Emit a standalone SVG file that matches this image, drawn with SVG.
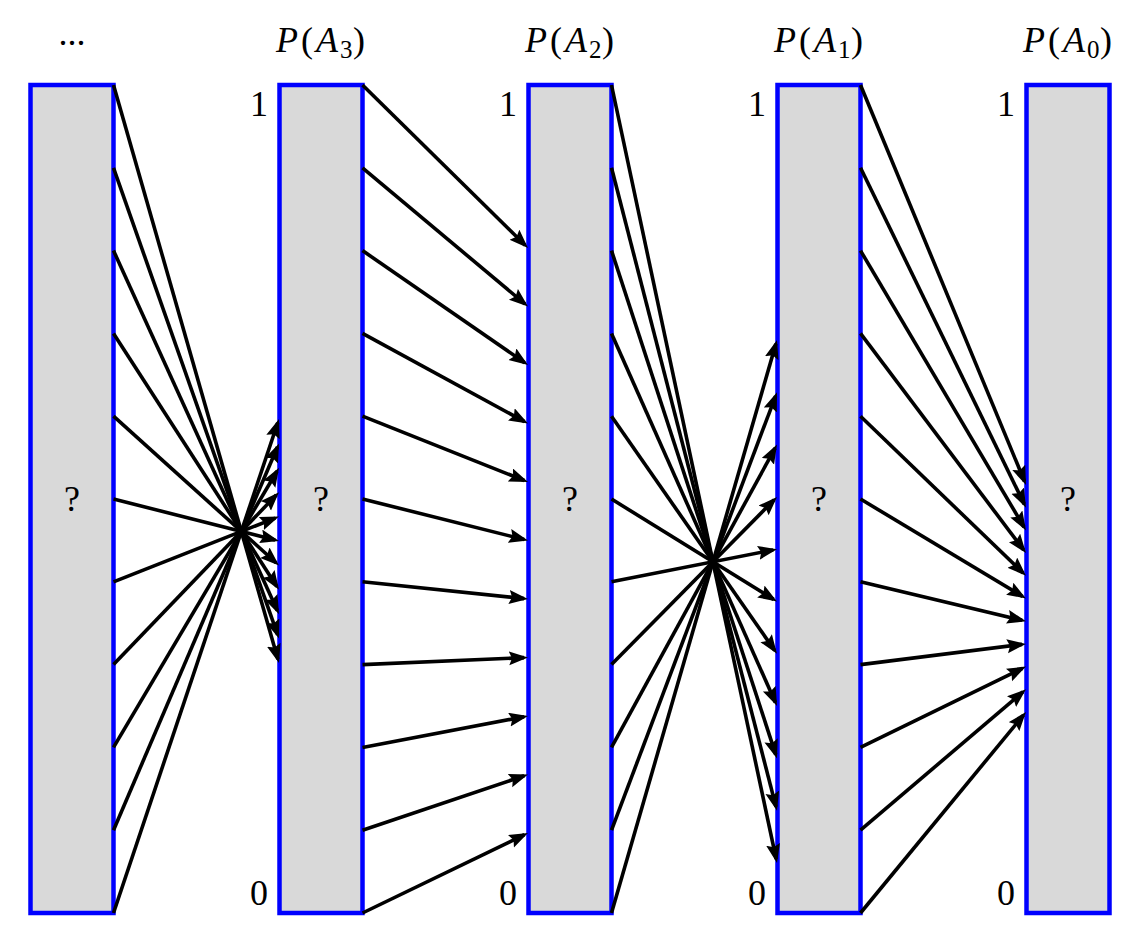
<svg xmlns="http://www.w3.org/2000/svg" width="1131" height="947" viewBox="0 0 1131 947">
<style>
.col{fill:#d9d9d9;stroke:#0000ff;stroke-width:4.5}
.t{font-family:"Liberation Serif","DejaVu Serif",serif;font-size:36px;fill:#000}
.i{font-style:italic}
.s{font-size:25px}
.c{fill:none;stroke:#000;stroke-width:3.6;marker-end:url(#ah)}
</style>
<defs>
<marker id="ah" markerUnits="userSpaceOnUse" markerWidth="20" markerHeight="15" refX="15" refY="7" orient="auto">
<path d="M0,0 L19,7 L0,14 L3,7 z" fill="#000"/>
</marker>
</defs>
<rect width="1131" height="947" fill="#fff"/>
<g id="col0"><rect class="col" x="30.5" y="85" width="83" height="828"/><text class="t" x="72" y="511" text-anchor="middle">?</text><text class="t" x="72" y="45" text-anchor="middle">...</text></g>
<g id="col1"><rect class="col" x="279.5" y="85" width="83" height="828"/><text class="t" x="321" y="511" text-anchor="middle">?</text><text class="t" x="268" y="116" text-anchor="end">1</text><text class="t" x="268" y="905" text-anchor="end">0</text>
<text class="t"><tspan class="i" x="276" y="52">P</tspan><tspan x="301" y="52">(</tspan><tspan class="i" x="316" y="52">A</tspan><tspan class="s" x="340" y="58">3</tspan><tspan x="353" y="52">)</tspan></text></g>
<g id="col2"><rect class="col" x="528.5" y="85" width="83" height="828"/><text class="t" x="570" y="511" text-anchor="middle">?</text><text class="t" x="517" y="116" text-anchor="end">1</text><text class="t" x="517" y="905" text-anchor="end">0</text>
<text class="t"><tspan class="i" x="525" y="52">P</tspan><tspan x="550" y="52">(</tspan><tspan class="i" x="565" y="52">A</tspan><tspan class="s" x="589" y="58">2</tspan><tspan x="602" y="52">)</tspan></text></g>
<g id="col3"><rect class="col" x="777.5" y="85" width="83" height="828"/><text class="t" x="819" y="511" text-anchor="middle">?</text><text class="t" x="766" y="116" text-anchor="end">1</text><text class="t" x="766" y="905" text-anchor="end">0</text>
<text class="t"><tspan class="i" x="774" y="52">P</tspan><tspan x="799" y="52">(</tspan><tspan class="i" x="814" y="52">A</tspan><tspan class="s" x="838" y="58">1</tspan><tspan x="851" y="52">)</tspan></text></g>
<g id="col4"><rect class="col" x="1026.5" y="85" width="83" height="828"/><text class="t" x="1068" y="511" text-anchor="middle">?</text><text class="t" x="1015" y="116" text-anchor="end">1</text><text class="t" x="1015" y="905" text-anchor="end">0</text>
<text class="t"><tspan class="i" x="1023" y="52">P</tspan><tspan x="1048" y="52">(</tspan><tspan class="i" x="1063" y="52">A</tspan><tspan class="s" x="1087" y="58">0</tspan><tspan x="1100" y="52">)</tspan></text></g>
<g id="connectors">
<path class="c" d="M113.5,85 L277.9,659.15"/>
<path class="c" d="M113.5,167.8 L277.67,634.83"/>
<path class="c" d="M113.5,250.6 L277.34,610.56"/>
<path class="c" d="M113.5,333.4 L276.83,586.44"/>
<path class="c" d="M113.5,416.2 L276.03,562.72"/>
<path class="c" d="M113.5,499 L275.12,540.02"/>
<path class="c" d="M113.5,581.8 L275.28,518.07"/>
<path class="c" d="M113.5,664.6 L276.23,495.09"/>
<path class="c" d="M113.5,747.4 L276.96,471.24"/>
<path class="c" d="M113.5,830.2 L277.43,447.08"/>
<path class="c" d="M113.5,913 L277.73,422.79"/>
<path class="c" d="M362.5,85 L525.15,245.19"/>
<path class="c" d="M362.5,167.8 L524.93,303.93"/>
<path class="c" d="M362.5,250.6 L524.71,362.73"/>
<path class="c" d="M362.5,333.4 L524.49,421.59"/>
<path class="c" d="M362.5,416.2 L524.28,480.52"/>
<path class="c" d="M362.5,499 L524.12,539.53"/>
<path class="c" d="M362.5,581.8 L524.02,598.59"/>
<path class="c" d="M362.5,664.6 L524,657.67"/>
<path class="c" d="M362.5,747.4 L524.07,716.75"/>
<path class="c" d="M362.5,830.2 L524.21,775.78"/>
<path class="c" d="M362.5,913 L524.4,834.74"/>
<path class="c" d="M611.5,85 L776.17,859.09"/>
<path class="c" d="M611.5,167.8 L776,806.83"/>
<path class="c" d="M611.5,250.6 L775.76,754.6"/>
<path class="c" d="M611.5,333.4 L775.38,702.44"/>
<path class="c" d="M611.5,416.2 L774.71,650.52"/>
<path class="c" d="M611.5,499 L773.6,599.39"/>
<path class="c" d="M611.5,581.8 L773.08,549.97"/>
<path class="c" d="M611.5,664.6 L774.19,499.75"/>
<path class="c" d="M611.5,747.4 L775.08,448.11"/>
<path class="c" d="M611.5,830.2 L775.59,396.04"/>
<path class="c" d="M611.5,913 L775.89,343.84"/>
<path class="c" d="M860.5,85 L1024.47,481.3"/>
<path class="c" d="M860.5,167.8 L1024.25,504.1"/>
<path class="c" d="M860.5,250.6 L1023.96,526.96"/>
<path class="c" d="M860.5,333.4 L1023.59,549.91"/>
<path class="c" d="M860.5,416.2 L1023.12,573.02"/>
<path class="c" d="M860.5,499 L1022.57,596.44"/>
<path class="c" d="M860.5,581.8 L1022.11,620.27"/>
<path class="c" d="M860.5,664.6 L1022.03,644.4"/>
<path class="c" d="M860.5,747.4 L1022.41,668.35"/>
<path class="c" d="M860.5,830.2 L1022.95,691.89"/>
<path class="c" d="M860.5,913 L1023.46,715.09"/>
</g>
</svg>
